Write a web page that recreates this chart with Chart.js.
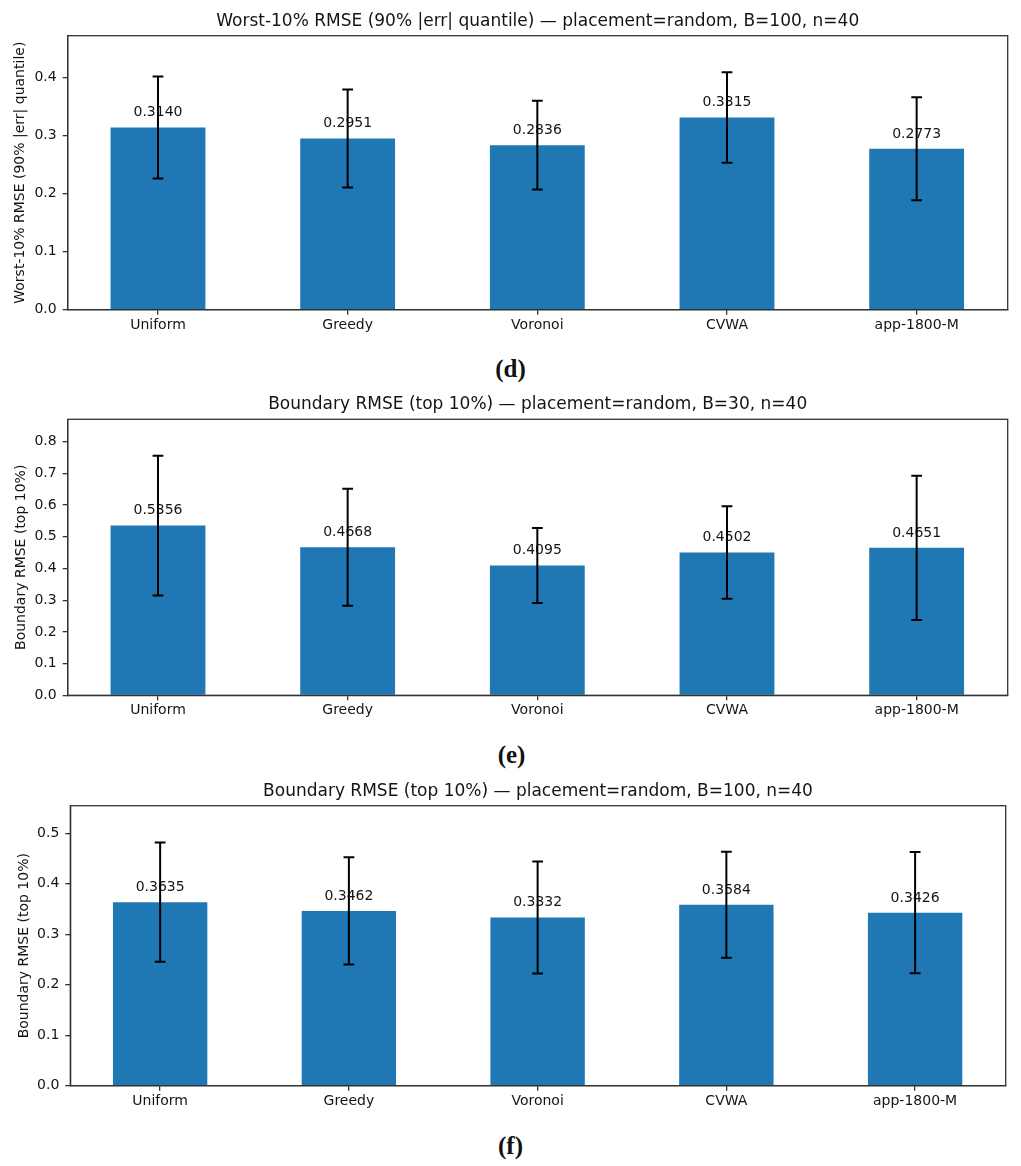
<!DOCTYPE html>
<html>
<head>
<meta charset="utf-8">
<script src="https://cdn.jsdelivr.net/npm/chart.js@4.4.1/dist/chart.umd.min.js"></script>
<style>
  html, body { margin: 0; padding: 0; background: #fff; }
  body { position: relative; width: 1021px; height: 1166px; overflow: hidden; }
  .panel { position: absolute; left: 0; width: 1021px; }
  .sub { position: absolute; left: 0; width: 1021px; text-align: center; font-family: "Liberation Serif", "Times New Roman", serif; font-size: 25px; line-height: 25px; font-weight: bold; color: #111; }
</style>
</head>
<body>
<div class="panel" style="top:0px;height:345px;"><canvas id="cD" width="1021" height="345"></canvas></div>
<div class="sub" style="top:356px;left:0px;">(d)</div>
<div class="panel" style="top:385px;height:345px;"><canvas id="cE" width="1021" height="345"></canvas></div>
<div class="sub" style="top:742px;left:1px;">(e)</div>
<div class="panel" style="top:770px;height:350px;"><canvas id="cF" width="1021" height="350"></canvas></div>
<div class="sub" style="top:1133px;left:0px;">(f)</div>
<script>
// ---- data ----
const categories = ['Uniform', 'Greedy', 'Voronoi', 'CVWA', 'app-1800-M'];

const worstMeans = [0.3140, 0.2951, 0.2836, 0.3315, 0.2773];
const worstErrs  = [0.0880, 0.0845, 0.0765, 0.0780, 0.0888];

const b30Means = [0.5356, 0.4668, 0.4095, 0.4502, 0.4651];
const b30Errs  = [0.2205, 0.1845, 0.1180, 0.1460, 0.2276];

const b100Means = [0.3635, 0.3462, 0.3332, 0.3584, 0.3426];
const b100Errs  = [0.1180, 0.1060, 0.1110, 0.1050, 0.1200];

const worstTicks = [0.0, 0.1, 0.2, 0.3, 0.4];
const b30Ticks   = [0.0, 0.1, 0.2, 0.3, 0.4, 0.5, 0.6, 0.7, 0.8];
const b100Ticks  = [0.0, 0.1, 0.2, 0.3, 0.4, 0.5];

const worstTitle = 'Worst-10% RMSE (90% |err| quantile) — placement=random, B=100, n=40';
const b30Title   = 'Boundary RMSE (top 10%) — placement=random, B=30, n=40';
const b100Title  = 'Boundary RMSE (top 10%) — placement=random, B=100, n=40';
const worstYLabel = 'Worst-10% RMSE (90% |err| quantile)';
const boundaryYLabel = 'Boundary RMSE (top 10%)';

// ---- styling ----
const FONT = '"DejaVu Sans", Verdana, sans-serif';
const TXT = '#141414';
const SPINE = '#333333';
const BAR = '#1f77b4';

const dataMap = {
  cD: [worstMeans, worstErrs],
  cE: [b30Means, b30Errs],
  cF: [b100Means, b100Errs]
};

const errPlugin = {
  id: 'errbars',
  afterDatasetsDraw(chart) {
    const ctx = chart.ctx;
    const xs = chart.scales.x, ys = chart.scales.y;
    const [means, errs] = dataMap[chart.canvas.id];
    ctx.save();
    // value labels
    ctx.font = '14px ' + FONT;
    ctx.fillStyle = TXT;
    ctx.textAlign = 'center';
    ctx.textBaseline = 'alphabetic';
    means.forEach((m, i) => {
      ctx.fillText(m.toFixed(4), xs.getPixelForValue(i), ys.getPixelForValue(m) - 11.2);
    });
    // error bars
    ctx.strokeStyle = '#000';
    ctx.lineWidth = 2;
    means.forEach((m, i) => {
      const x = xs.getPixelForValue(i);
      const yt = ys.getPixelForValue(m + errs[i]);
      const yb = ys.getPixelForValue(m - errs[i]);
      ctx.beginPath();
      ctx.moveTo(x, yt); ctx.lineTo(x, yb);
      ctx.moveTo(x - 5.4, yt); ctx.lineTo(x + 5.4, yt);
      ctx.moveTo(x - 5.4, yb); ctx.lineTo(x + 5.4, yb);
      ctx.stroke();
    });
    // frame (all four spines)
    const a = chart.chartArea;
    ctx.strokeStyle = SPINE;
    ctx.lineWidth = 1.3;
    ctx.strokeRect(a.left, a.top, a.right - a.left, a.bottom - a.top);
    ctx.restore();
  }
};

function makeChart(id, o) {
  return new Chart(document.getElementById(id), {
    type: 'bar',
    data: {
      datasets: [{
        data: o.means.map((v, i) => ({ x: i, y: v })),
        backgroundColor: BAR,
        borderWidth: 0,
        barPercentage: 0.5,
        categoryPercentage: 1.0
      }]
    },
    options: {
      responsive: false,
      animation: false,
      devicePixelRatio: 1,
      layout: { padding: { left: 0, right: o.padRight, top: 0, bottom: o.padBottom } },
      plugins: {
        legend: { display: false },
        tooltip: { enabled: false },
        title: {
          display: true,
          text: o.title,
          fullSize: false,
          color: TXT,
          font: { family: FONT, size: 17, weight: 'normal', lineHeight: 1.2 },
          padding: { top: o.titleTop, bottom: o.titleBottom }
        }
      },
      scales: {
        x: {
          type: 'linear',
          min: -0.476,
          max: 4.48,
          offset: false,
          afterBuildTicks: s => { s.ticks = categories.map((c, i) => ({ value: i })); },
          afterFit: s => { s.height = 30; },
          ticks: {
            callback: v => categories[v],
            color: TXT,
            font: { family: FONT, size: 14 },
            padding: 2,
            autoSkip: false,
            maxRotation: 0,
            minRotation: 0
          },
          grid: { display: true, offset: false, drawOnChartArea: false, drawTicks: true, tickLength: 5, color: SPINE, lineWidth: 1.3 },
          border: { display: true, color: SPINE, width: 1.3 }
        },
        y: {
          min: 0,
          max: o.ymax,
          afterBuildTicks: s => { s.ticks = o.yticks.map(v => ({ value: v })); },
          afterFit: s => { s.width = o.axisWidth; },
          ticks: {
            callback: v => Number(v).toFixed(1),
            color: TXT,
            font: { family: FONT, size: 14 },
            padding: 6
          },
          title: {
            display: true,
            text: o.ylabel,
            color: TXT,
            font: { family: FONT, size: 14, lineHeight: 1.2 },
            padding: { top: o.ytitlePad, bottom: 0 }
          },
          grid: { display: true, offset: false, drawOnChartArea: false, drawTicks: true, tickLength: 5, color: SPINE, lineWidth: 1.3 },
          border: { display: true, color: SPINE, width: 1.3 }
        }
      }
    },
    plugins: [errPlugin]
  });
}

makeChart('cD', {
  means: worstMeans, yticks: worstTicks, ymax: 0.4724,
  title: worstTitle, ylabel: worstYLabel,
  padRight: 13.3, padBottom: 5.3, titleTop: 11.8, titleBottom: 3.5,
  axisWidth: 67.7, ytitlePad: 12.2
});
makeChart('cE', {
  means: b30Means, yticks: b30Ticks, ymax: 0.8707,
  title: b30Title, ylabel: boundaryYLabel,
  padRight: 13.3, padBottom: 4.7, titleTop: 9.8, titleBottom: 4.1,
  axisWidth: 67.7, ytitlePad: 12.9
});
makeChart('cF', {
  means: b100Means, yticks: b100Ticks, ymax: 0.5545,
  title: b100Title, ylabel: boundaryYLabel,
  padRight: 15.3, padBottom: 4.3, titleTop: 11.5, titleBottom: 3.8,
  axisWidth: 70.3, ytitlePad: 15.8
});
</script>
</body>
</html>
